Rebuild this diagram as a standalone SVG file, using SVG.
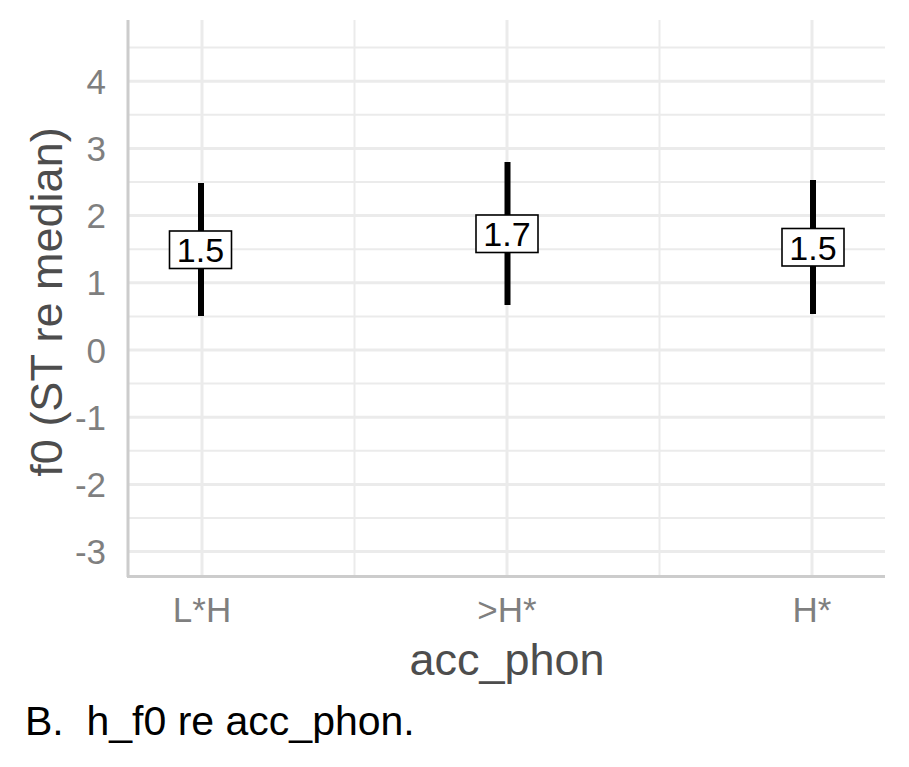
<svg xmlns="http://www.w3.org/2000/svg" width="909" height="767" viewBox="0 0 909 767">
<style>
.gmaj{stroke:#ebebeb;stroke-width:3;fill:none}
.gmin{stroke:#ebebeb;stroke-width:2;fill:none}
.axis{stroke:#cccccc;stroke-width:3;fill:none}
.ytick{font-family:"Liberation Sans",Arial,sans-serif;font-size:35px;fill:#7f7f7f;text-anchor:end}
.xtick{font-family:"Liberation Sans",Arial,sans-serif;font-size:35px;fill:#7f7f7f;text-anchor:middle}
.title{font-family:"Liberation Sans",Arial,sans-serif;font-size:45px;fill:#4d4d4d;text-anchor:middle}
.bar{stroke:#000;stroke-width:6;fill:none}
.box{fill:#fff;stroke:#000;stroke-width:1.6}
.lab{font-family:"Liberation Sans",Arial,sans-serif;font-size:34px;fill:#000;text-anchor:middle}
.cap{font-family:"Liberation Sans",Arial,sans-serif;font-size:41px;fill:#000}
</style>
<rect width="909" height="767" fill="#fff"/>
<g id="grid">
<path class="gmin" d="M128 47.6H885M128 114.8H885M128 182H885M128 249.2H885M128 316.4H885M128 383.6H885M128 450.8H885M128 518H885M354.5 20V576M659.5 20V576"/>
<path class="gmaj" d="M128 81.2H885M128 148.4H885M128 215.6H885M128 282.8H885M128 350H885M128 417.2H885M128 484.4H885M128 551.6H885M202 20V576M507 20V576M812 20V576"/>
</g>
<g id="axes">
<path class="axis" d="M128 20V577M127 576.5H885"/>
</g>
<g id="yticks">
<text class="ytick" x="106" y="93.8">4</text>
<text class="ytick" x="106" y="161">3</text>
<text class="ytick" x="106" y="228.2">2</text>
<text class="ytick" x="106" y="295.4">1</text>
<text class="ytick" x="106" y="362.6">0</text>
<text class="ytick" x="106" y="429.8">-1</text>
<text class="ytick" x="106" y="497">-2</text>
<text class="ytick" x="106" y="564.2">-3</text>
</g>
<g id="xticks">
<text class="xtick" x="202" y="622">L*H</text>
<text class="xtick" x="507" y="622">&gt;H*</text>
<text class="xtick" x="812" y="622">H*</text>
</g>
<g id="titles">
<text class="title" x="507" y="675">acc_phon</text>
<text class="title" transform="translate(62,302) rotate(-90)">f0 (ST re median)</text>
</g>
<g id="LH">
<line class="bar" x1="201" y1="183" x2="201" y2="316"/>
<rect class="box" x="169.5" y="231" width="62" height="37.5"/>
<text class="lab" x="200.5" y="262">1.5</text>
</g>
<g id="gtH">
<line class="bar" x1="507.5" y1="162" x2="507.5" y2="305"/>
<rect class="box" x="476" y="215" width="62" height="37.5"/>
<text class="lab" x="507" y="246">1.7</text>
</g>
<g id="H">
<line class="bar" x1="813" y1="180" x2="813" y2="314"/>
<rect class="box" x="782" y="228.5" width="62" height="37.5"/>
<text class="lab" x="813" y="259.5">1.5</text>
</g>
<text class="cap" x="25" y="735" xml:space="preserve">B.  h_f0 re acc_phon.</text>
</svg>
